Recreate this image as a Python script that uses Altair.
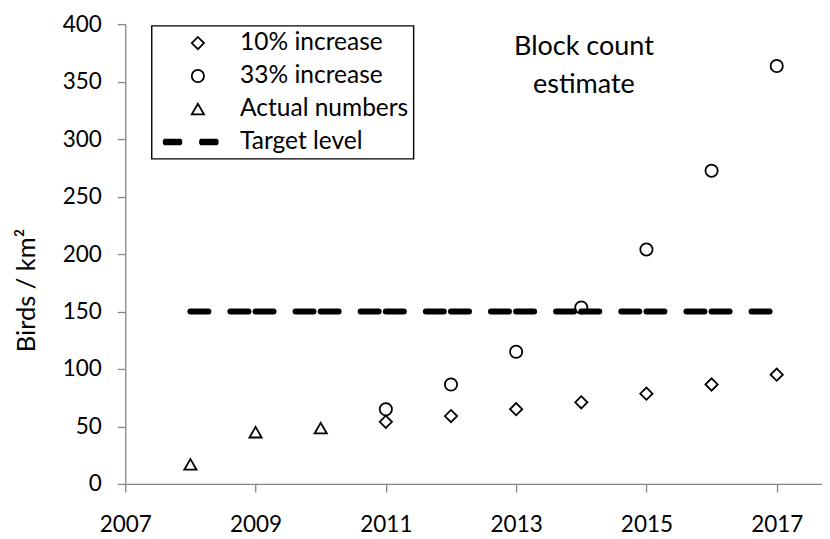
import altair as alt
import pandas as pd

# ---- data ----
years_actual = [2008, 2009, 2010]
actual_numbers = [17, 45, 48.5]

years_est = [2011, 2012, 2013, 2014, 2015, 2016, 2017]
increase_10 = [54, 59, 65, 71, 78.5, 86.5, 95]
increase_33 = [65, 86.5, 115, 153.5, 204, 272.5, 363.5]

target_years = [2008, 2009, 2010, 2011, 2012, 2013, 2014, 2015, 2016, 2017]
target_level = 150

series_names = ["10% increase", "33% increase", "Actual numbers", "Target level"]
x_ticks = [2007, 2009, 2011, 2013, 2015, 2017]
y_ticks = [0, 50, 100, 150, 200, 250, 300, 350, 400]
annotation = "Block count\nestimate"

# ---- tables ----
rows = []
for y, v in zip(years_est, increase_10):
    rows.append({"year": y, "value": v, "series": "10% increase"})
for y, v in zip(years_est, increase_33):
    rows.append({"year": y, "value": v, "series": "33% increase"})
for y, v in zip(years_actual, actual_numbers):
    rows.append({"year": y, "value": v, "series": "Actual numbers"})
points = pd.DataFrame(rows)

segs = pd.DataFrame({
    "year": target_years[:-1],
    "year2": target_years[1:],
    "value": [target_level] * (len(target_years) - 1),
})

note = pd.DataFrame({"year": [2014.04], "value": [373], "text": [annotation]})

FONT = "Lato"
GRAY = "#868686"
x_scale = alt.Scale(domain=[2007, 2017.695], nice=False, zero=False)
y_scale = alt.Scale(domain=[0, 400], nice=False)

x_axis = alt.Axis(values=x_ticks, format="d", title=None, grid=False,
                  tickSize=8, labelPadding=22, labelFontSize=22.5,
                  labelFont=FONT, labelColor="black", domainColor=GRAY,
                  tickColor=GRAY, domainWidth=1.3, tickWidth=1.3,
                  labelFlush=False, labelOverlap=False)
y_axis = alt.Axis(values=y_ticks, title="Birds / km²", grid=False,
                  tickSize=8, labelPadding=16, labelFontSize=22.5,
                  labelFont=FONT, labelColor="black", domainColor=GRAY,
                  tickColor=GRAY, domainWidth=1.3, tickWidth=1.3,
                  titleFont=FONT, titleFontSize=25.5, titleFontWeight="normal",
                  titleColor="black", titleX=-99, titleY=266,
                  titleAngle=270, titleAlign="center", titleBaseline="middle")

# custom legend symbol for the dashed target line (stroke-only path, solid look)
def dash(x1, x2):
    parts = []
    for yy in [-0.37, -0.18, 0, 0.18, 0.37]:
        parts.append(f"M{x1},{yy}H{x2}")
    parts.append(f"M{x1},-0.37V0.37M{x2},-0.37V0.37")
    return "".join(parts)

target_path = dash(-5.57, -2.71) + dash(0.36, 3.22)

line = alt.Chart(segs).mark_rule(
    color="black", strokeWidth=6, strokeDash=[18, 22], strokeCap="round"
).encode(
    x=alt.X("year:Q", scale=x_scale, axis=x_axis),
    x2="year2:Q",
    y=alt.Y("value:Q", scale=y_scale, axis=y_axis),
)

pts = alt.Chart(points).mark_point(
    filled=False, size=150, strokeWidth=1.8, color="black", opacity=1
).encode(
    x=alt.X("year:Q", scale=x_scale, axis=x_axis),
    y=alt.Y("value:Q", scale=y_scale, axis=y_axis),
    shape=alt.Shape(
        "series:N",
        scale=alt.Scale(domain=series_names,
                        range=["diamond", "circle", "triangle-up", target_path]),
        legend=alt.Legend(
            title=None, orient="none", legendX=26.4, legendY=1.7,
            direction="vertical", strokeColor="black", fillColor="white",
            padding=5, symbolOffset=29, labelOffset=30, rowPadding=8,
            labelFont=FONT, labelFontSize=24.5, labelColor="black",
            symbolSize=150, symbolStrokeWidth=1.8, symbolStrokeColor="black",
            symbolFillColor="transparent", labelLimit=400,
        ),
    ),
)

txt = alt.Chart(note).mark_text(
    font=FONT, fontSize=27, color="black", align="center",
    baseline="alphabetic", lineBreak="\n", lineHeight=38,
).encode(
    x=alt.X("year:Q", scale=x_scale),
    y=alt.Y("value:Q", scale=y_scale),
    text="text:N",
)

chart = alt.layer(line, pts, txt).properties(
    width=697, height=460,
    autosize=alt.AutoSizeParams(type="none"),
    padding={"left": 117.3, "top": 16, "right": 0, "bottom": 62},
).configure_view(stroke=None).configure_legend(strokeWidth=1.4)

chart.save("out.html", embed_options={"renderer": "svg", "actions": False})
